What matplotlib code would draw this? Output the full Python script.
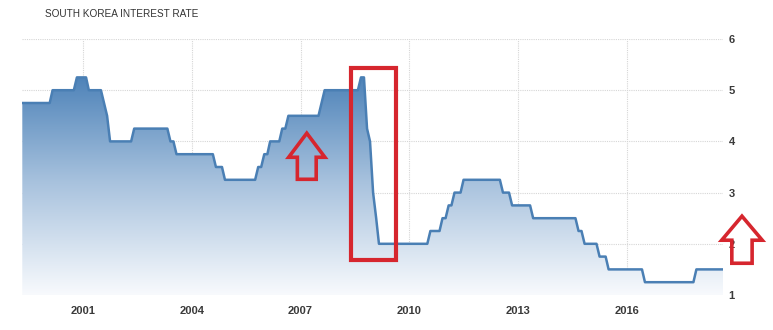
import numpy as np
import pandas as pd
import matplotlib
matplotlib.use("Agg")
import matplotlib.pyplot as plt
import matplotlib.dates as mdates
from matplotlib.patches import Polygon, Rectangle
from matplotlib.colors import LinearSegmentedColormap

# Bank of Korea base rate decisions (effective date, rate %)
change_dates = [
    "1999-04-01", "2000-02-10", "2000-10-05", "2001-02-08", "2001-07-05",
    "2001-08-09", "2001-09-19", "2002-05-07", "2003-05-13", "2003-07-10",
    "2004-08-12", "2004-11-11", "2005-10-11", "2005-12-08", "2006-02-09",
    "2006-06-08", "2006-08-10", "2007-07-12", "2007-08-09", "2008-08-07",
    "2008-10-09", "2008-10-27", "2008-11-07", "2008-12-11", "2009-01-09",
    "2009-02-12", "2010-07-09", "2010-11-16", "2011-01-13", "2011-03-10",
    "2011-06-10", "2012-07-12", "2012-10-11", "2013-05-09", "2014-08-14",
    "2014-10-15", "2015-03-12", "2015-06-11", "2016-06-09", "2017-11-30",
]
change_rates = [
    4.75, 5.00, 5.25, 5.00, 4.75,
    4.50, 4.00, 4.25, 4.00, 3.75,
    3.50, 3.25, 3.50, 3.75, 4.00,
    4.25, 4.50, 4.75, 5.00, 5.25,
    5.00, 4.25, 4.00, 3.00, 2.50,
    2.00, 2.25, 2.50, 2.75, 3.00,
    3.25, 3.00, 2.75, 2.50, 2.25,
    2.00, 1.75, 1.50, 1.25, 1.50,
]
series_end = "2018-08-31"
year_ticks = [2001, 2004, 2007, 2010, 2013, 2016]
rate_ticks = [1, 2, 3, 4, 5, 6]

title = "SOUTH KOREA INTEREST RATE"

# monthly series (end of month) built from the decisions
events = pd.Series(change_rates, index=pd.to_datetime(change_dates))
months = pd.date_range("1999-04-30", series_end, freq="ME")
monthly = events.reindex(events.index.union(months)).ffill().reindex(months)

x = mdates.date2num(monthly.index.to_pydatetime())
y = monthly.values

fig = plt.figure(figsize=(7.73, 3.30), dpi=100)
ax = fig.add_axes([22 / 773, 35 / 330, 701 / 773, 256 / 330])

ymin, ymax = 1, 6
xmin = mdates.date2num(pd.Timestamp("1999-04-27"))
xmax = mdates.date2num(pd.Timestamp("2018-08-25"))

# gradient fill under the line
cmap = LinearSegmentedColormap.from_list("tefill", ["#f8fafd", "#a9c3de", "#4a80b7"])
grad = np.linspace(0, 1, 256).reshape(-1, 1)
img = ax.imshow(grad, cmap=cmap, aspect="auto", origin="lower",
                extent=[xmin, xmax, ymin, 5.35], zorder=1)
poly = Polygon(np.column_stack([np.r_[x[0], x, x[-1]], np.r_[ymin, y, ymin]]),
               closed=True, facecolor="none", edgecolor="none")
ax.add_patch(poly)
img.set_clip_path(poly)

ax.plot(x, y, color="#4a7fb4", lw=1.8, zorder=3, solid_joinstyle="round")

ax.set_xlim(xmin, xmax)
ax.set_ylim(ymin, ymax)

ax.set_xticks([mdates.date2num(pd.Timestamp(f"{yr}-01-01")) for yr in year_ticks])
ax.set_xticklabels([str(yr) for yr in year_ticks])
ax.set_yticks(rate_ticks)
ax.set_yticklabels([str(r) for r in rate_ticks])
ax.yaxis.tick_right()
ax.tick_params(axis="both", length=0, labelsize=8, labelcolor="#3a3a3a")
ax.tick_params(axis="x", pad=8)
ax.tick_params(axis="y", pad=4)
for lbl in ax.get_xticklabels() + ax.get_yticklabels():
    lbl.set_family("Liberation Sans")
    lbl.set_fontweight("bold")

ax.grid(True, color="#d6d6d6", linestyle=(0, (1, 1)), lw=0.8, zorder=0)
ax.set_axisbelow(True)
for s in ax.spines.values():
    s.set_visible(False)

fig.text(45 / 773, 1 - 14 / 330, title, fontsize=7.2, color="#333333",
         family="Liberation Sans", va="center", ha="left")

# red annotations (in data coordinates)
red = "#d6262e"


def yr(v):
    # fractional year to matplotlib date number
    y0 = int(v)
    start = pd.Timestamp(f"{y0}-01-01")
    return mdates.date2num(start + (pd.Timestamp(f"{y0 + 1}-01-01") - start) * (v - y0))


ax.add_patch(Rectangle((yr(2008.38), 1.68), yr(2009.64) - yr(2008.38), 5.43 - 1.68,
                       fill=False, edgecolor=red, lw=3, clip_on=False, zorder=5))


def up_arrow(xc, tip, head_w, stem_w, head_h, stem_h):
    pts = [
        (yr(xc), tip),
        (yr(xc + head_w), tip - head_h),
        (yr(xc + stem_w), tip - head_h),
        (yr(xc + stem_w), tip - head_h - stem_h),
        (yr(xc - stem_w), tip - head_h - stem_h),
        (yr(xc - stem_w), tip - head_h),
        (yr(xc - head_w), tip - head_h),
    ]
    ax.add_patch(Polygon(pts, closed=True, fill=False, edgecolor=red, lw=2.6,
                         joinstyle="miter", clip_on=False, zorder=5))


up_arrow(2007.17, 4.16, 0.5, 0.26, 0.47, 0.43)
up_arrow(2019.17, 2.54, 0.56, 0.28, 0.47, 0.45)

fig.savefig("out.png", dpi=100)
